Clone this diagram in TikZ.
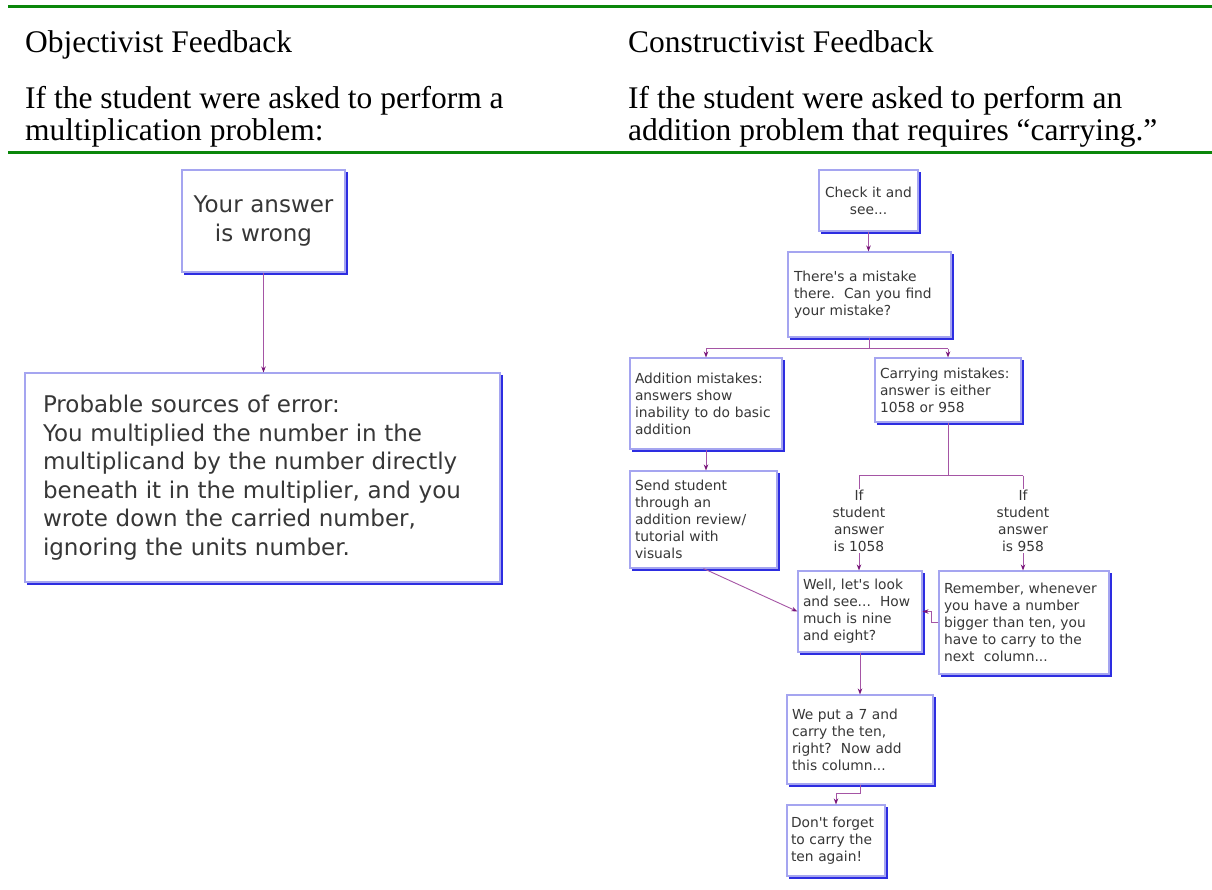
\documentclass[tikz,border=0pt]{standalone}
\usepackage{fontspec}
\setmainfont{Liberation Serif}
\newfontfamily\vfont{DejaVu Sans}
\usetikzlibrary{arrows.meta,calc}
\definecolor{grn}{RGB}{10,135,10}
\definecolor{boxline}{RGB}{165,165,240}
\definecolor{shadc}{RGB}{45,45,225}
\definecolor{connc}{RGB}{165,85,165}
\definecolor{tipc}{RGB}{120,20,120}
\definecolor{txt}{RGB}{55,55,55}
\tikzset{
  head/.style={anchor=base west, inner sep=0, font=\fontsize{31.5}{32}\selectfont},
  fbox/.style={draw=boxline, line width=1.1pt, fill=white, inner ysep=0, text=txt, align=left},
  small/.style={font=\vfont\fontsize{13.8}{17}\selectfont},
  big/.style={font=\vfont\fontsize{23}{28.5}\selectfont},
  shad/.style={draw=shadc, line width=2.6pt},
  conn/.style={draw=connc, line width=0.9pt},
  arr/.style={conn, -{Stealth[length=6pt,width=4.5pt,color=tipc]}},
  lbl/.style={inner sep=1pt, text=txt, align=center, font=\vfont\fontsize{13.8}{17}\selectfont}
}
\newcommand\shd[1]{\draw[shad] ([xshift=1.3pt,yshift=-3pt]#1.north east) -- ([xshift=1.3pt,yshift=-1.3pt]#1.south east) -- ([xshift=3pt,yshift=-1.3pt]#1.south west);}
\begin{document}
\begin{tikzpicture}[x=1pt,y=-1pt]
\path[use as bounding box, fill=white] (0,0) rectangle (1212,890);
% header
\draw[grn, line width=3pt] (8,6.5) coordinate (g1a) -- (1212,6.5) coordinate (g1b);
\node[head] (h1) at (25,53) {Objectivist Feedback};
\node[head] (h2) at (25,109) {If the student were asked to perform a};
\node[head] (h3) at (25,141) {multiplication problem:};
\node[head] (h4) at (628,53) {Constructivist Feedback};
\node[head] (h5) at (628,109) {If the student were asked to perform an};
\node[head] (h6) at (628,141) {addition problem that requires “carrying.”};
\draw[grn, line width=2.6pt] (8,152.5) coordinate (g2a) -- (1212,152.5) coordinate (g2b);
% left chart
\node[fbox, big, align=center, minimum width=163, minimum height=102, inner xsep=4, text width=155] (A) at (263.5,221) {Your answer\\is wrong};
\shd{A}
\node[fbox, big, minimum width=475, minimum height=209, inner xsep=18, text width=439] (B) at (262.5,477.5) {Probable sources of error:\\You multiplied the number in the\\multiplicand by the number directly\\beneath it in the multiplier, and you\\wrote down the carried number,\\ignoring the units number.};
\shd{B}
\draw[arr] (A.south) -- (A.south |- B.north);
% right chart
\node[fbox, small, align=center, minimum width=99, minimum height=61, inner xsep=3, text width=93] (C) at (868.5,200.5) {Check it and\\see...};
\shd{C}
\node[fbox, small, minimum width=163, minimum height=85, inner xsep=6, text width=151] (D) at (869.5,294.5) {There's a mistake\\there.\ \ Can you find\\your mistake?};
\shd{D}
\node[fbox, small, minimum width=152, minimum height=91, inner xsep=5, text width=142] (E) at (706,403.5) {Addition mistakes:\\answers show\\inability to do basic\\addition};
\shd{E}
\node[fbox, small, minimum width=146, minimum height=64, inner xsep=5, text width=136] (F) at (948,390) {Carrying mistakes:\\answer is either\\1058 or 958};
\shd{F}
\node[fbox, small, minimum width=147, minimum height=97, inner xsep=5, text width=137] (G) at (703.5,519.5) {Send student\\through an\\addition review/\\tutorial with\\visuals};
\shd{G}
\node[lbl] (L1) at (859,521) {If\\student\\answer\\is 1058};
\node[lbl] (L2) at (1023,521) {If\\student\\answer\\is 958};
\node[fbox, small, minimum width=124, minimum height=81, inner xsep=5, text width=114] (H) at (860,611.5) {Well, let's look\\and see...\ \ How\\much is nine\\and eight?};
\shd{H}
\node[fbox, small, minimum width=170, minimum height=103, inner xsep=5, text width=160] (I) at (1024,622.5) {Remember, whenever\\you have a number\\bigger than ten, you\\have to carry to the\\next\ \ column...};
\shd{I}
\node[fbox, small, minimum width=146, minimum height=89, inner xsep=5, text width=136] (J) at (860,739.5) {We put a 7 and\\carry the ten,\\right?\ \ Now add\\this column...};
\shd{J}
\node[fbox, small, minimum width=98, minimum height=71, inner xsep=4, text width=90] (K) at (836,840.5) {Don't forget\\to carry the\\ten again!};
\shd{K}
% connectors
\draw[arr] (C.south) -- (C.south |- D.north);
\draw[conn] (D.south) -- ++(0,11) coordinate (dj);
\draw[conn] (dj -| E.north) -- (dj -| F.north);
\draw[arr] (dj -| E.north) -- (E.north);
\draw[arr] (dj -| F.north) -- (F.north);
\draw[arr] (E.south) -- (E.south |- G.north);
\draw[conn] (F.south) -- ++(0,53) coordinate (fj);
\draw[conn] (fj -| L1.north) -- (fj -| L2.north);
\draw[conn] (fj -| L1.north) -- (L1.north);
\draw[conn] (fj -| L2.north) -- (L2.north);
\draw[arr] (L1.south) -- (L1.south |- H.north);
\draw[arr] (L2.south) -- (L2.south |- I.north);
\draw[arr] (G.south) -- (H.west);
\draw[arr] (I.west) -- ++(-7,0) |- (H.east);
\draw[arr] (H.south) -- (H.south |- J.north);
\draw[arr] (J.south) -- ++(0,9) -| (K.north);
\end{tikzpicture}
\end{document}
